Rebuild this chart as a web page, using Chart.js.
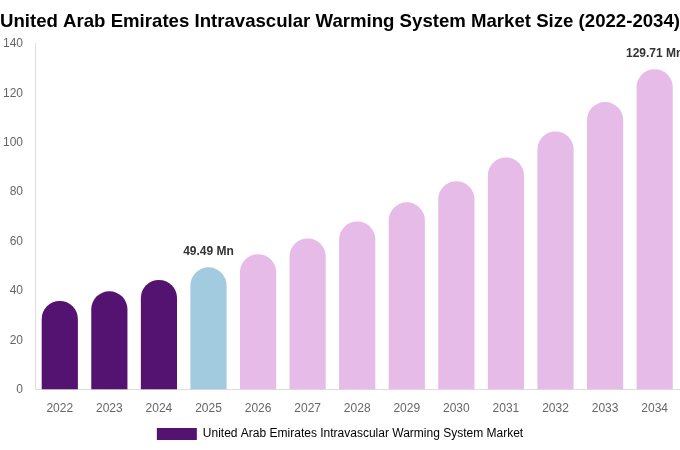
<!DOCTYPE html>
<html>
<head>
<meta charset="utf-8">
<script src="https://cdn.jsdelivr.net/npm/chart.js@4.4.0/dist/chart.umd.min.js"></script>
<style>
    html, body { margin: 0; padding: 0; background: #fff; }
    #wrap { width: 680px; height: 450px; }
</style>
</head>
<body>
<div id="wrap"><canvas id="myChart"></canvas></div>
<script>
const years = ['2022', '2023', '2024', '2025', '2026', '2027', '2028', '2029', '2030', '2031', '2032', '2033', '2034'];
const marketSize = [35.9, 39.8, 44.4, 49.49, 54.8, 61.2, 68.1, 75.8, 84.4, 94.0, 104.5, 116.4, 129.71];
const yTicks = [0, 20, 40, 60, 80, 100, 120, 140];
const labelledYears = ['2025', '2034'];
const seriesName = 'United Arab Emirates Intravascular Warming System Market';

// colours per bar: history, base year, forecast
const barColors = years.map(function (y) {
    if (y < '2025') return '#541271';
    if (y === '2025') return '#a3cbdf';
    return '#e6bbe8';
});

// draws "xx.xx Mn" above the picked bars
const valueLabels = {
    id: 'valueLabels',
    afterDatasetsDraw(chart) {
        const ctx = chart.ctx;
        const meta = chart.getDatasetMeta(0);
        ctx.save();
        ctx.font = 'bold 12px "Liberation Sans", Arial, sans-serif';
        ctx.fillStyle = '#333333';
        ctx.textAlign = 'center';
        ctx.textBaseline = 'bottom';
        meta.data.forEach(function (bar, i) {
            if (labelledYears.indexOf(years[i]) === -1) return;
            ctx.fillText(marketSize[i].toFixed(2) + ' Mn', bar.x, bar.y - 10);
        });
        ctx.restore();
    }
};

const config = {
    type: 'bar',
    data: {
        labels: years,
        datasets: [{
            label: seriesName,
            data: marketSize,
            backgroundColor: barColors,
            borderWidth: 0,
            borderRadius: { topLeft: 18, topRight: 18 },
            borderSkipped: 'start',
            categoryPercentage: 0.73,
            barPercentage: 1
        }]
    },
    options: {
        responsive: true,
        maintainAspectRatio: false,
        animation: false,
        layout: { padding: { left: 0, right: 0, top: 0, bottom: 0 } },
        plugins: {
            title: {
                display: true,
                text: 'United Arab Emirates Intravascular Warming System Market Size (2022-2034)',
                color: '#000000',
                font: { family: '"Liberation Sans", Arial, sans-serif', size: 19, weight: 'bold' },
                padding: { top: 10, bottom: 11 }
            },
            legend: {
                position: 'bottom',
                labels: {
                    boxWidth: 40,
                    boxHeight: 12,
                    padding: 0,
                    color: '#666666',
                    font: { family: '"Liberation Sans", Arial, sans-serif', size: 12 },
                    generateLabels: function () {
                        return [{ text: seriesName, fillStyle: '#541271', strokeStyle: '#541271', lineWidth: 0 }];
                    }
                },
                onClick: null
            },
            tooltip: { enabled: false }
        },
        scales: {
            x: {
                grid: { display: false, drawTicks: false },
                border: { display: true, color: '#dddddd' },
                ticks: { color: '#666666', font: { family: '"Liberation Sans", Arial, sans-serif', size: 12 }, padding: 12 }
            },
            y: {
                min: 0,
                max: 140,
                afterBuildTicks: function (axis) {
                    axis.ticks = yTicks.map(function (v) { return { value: v }; });
                },
                afterFit: function (axis) {
                    axis.width = 35;
                },
                grid: { display: false, drawTicks: false },
                border: { display: true, color: '#dddddd' },
                ticks: { color: '#666666', font: { family: '"Liberation Sans", Arial, sans-serif', size: 12 }, padding: 12 }
            }
        }
    },
    plugins: [valueLabels]
};

const chart = new Chart(document.getElementById('myChart').getContext('2d'), config);
</script>
</body>
</html>
